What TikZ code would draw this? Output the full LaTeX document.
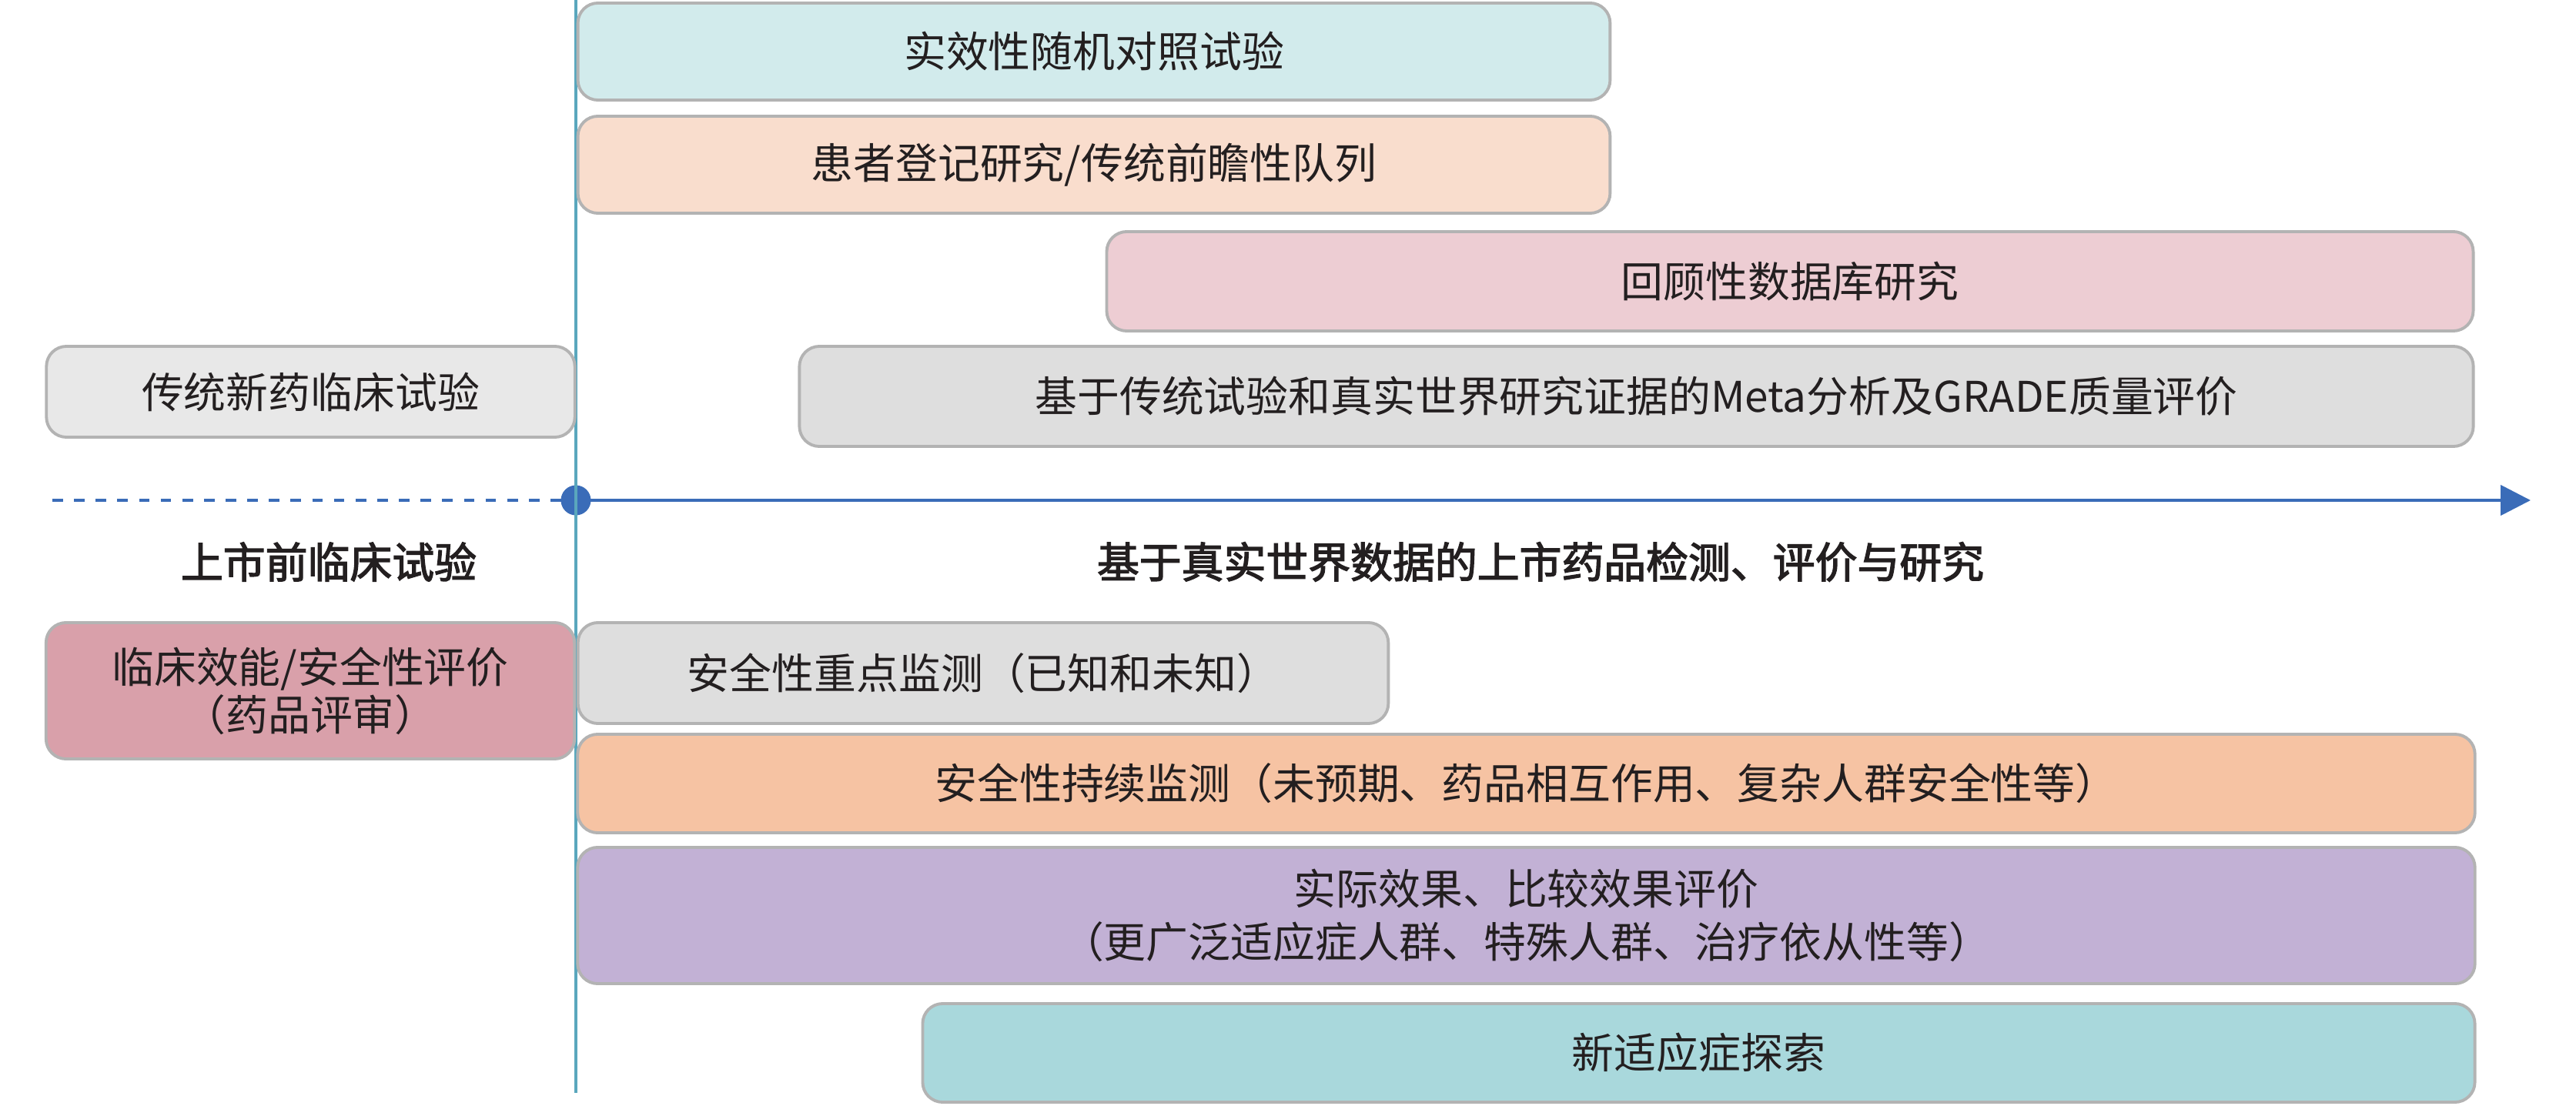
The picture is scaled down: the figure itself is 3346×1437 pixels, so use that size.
\documentclass[tikz,border=0pt]{standalone}
\usepackage{fontspec}
\setmainfont{Noto Sans CJK SC}
\newfontfamily\cjkb[FakeBold=2.5]{Noto Sans CJK SC}
\usetikzlibrary{arrows.meta}
\definecolor{cRCT}{HTML}{D2EBEC}
\definecolor{cREG}{HTML}{F9DDCD}
\definecolor{cRET}{HTML}{EDCDD3}
\definecolor{cMETA}{HTML}{DEDEDE}
\definecolor{cTRAD}{HTML}{E8E8E8}
\definecolor{cCLIN}{HTML}{D9A0AA}
\definecolor{cFOC}{HTML}{DEDEDE}
\definecolor{cCONT}{HTML}{F6C3A3}
\definecolor{cEFF}{HTML}{C2B1D5}
\definecolor{cNEW}{HTML}{A9D8DC}
\definecolor{cBORD}{HTML}{B3B3B3}
\definecolor{cVLINE}{HTML}{5AA7BD}
\definecolor{cAXIS}{HTML}{3A6CB8}
\definecolor{cTXT}{HTML}{231F20}
\tikzset{
  bx/.style={draw=cBORD, line width=1.1pt, rounded corners=0.26cm, inner sep=0pt,
    text=cTXT, align=center, font=\fontsize{15.6pt}{17.6pt}\selectfont},
  lbl/.style={text=cTXT, inner sep=0pt, font=\fontsize{15.6pt}{18pt}\selectfont\cjkb},
  dotnode/.style={circle, fill=cAXIS, minimum size=0.39cm, inner sep=0pt},
}
\begin{document}
\begin{tikzpicture}[x=0.01cm, y=-0.01cm]
\useasboundingbox (0,0) rectangle (3346,1437);
% axis
\coordinate (axL) at (68,650);
\coordinate (axR) at (3287,650);
\node[dotnode] (o) at (748,650) {};
\draw[cAXIS, line width=1.3pt, dash pattern=on 3.9pt off 4.1pt] (axL) -- (o.center);
\draw[cAXIS, line width=1.3pt, -{Triangle[length=0.39cm, width=0.39cm]}] (o.center) -- (axR);
% vertical line
\coordinate (vT) at (748,0);
\coordinate (vB) at (748,1420);
\draw[cVLINE, line width=1.3pt] (vT) -- (vB);
% upper boxes
\node[bx, fill=cRCT, minimum width=13.40cm, minimum height=1.26cm] (rct) at (1421,67) {实效性随机对照试验};
\node[bx, fill=cREG, minimum width=13.40cm, minimum height=1.26cm] (reg) at (1421,214) {患者登记研究/传统前瞻性队列};
\node[bx, fill=cRET, minimum width=17.74cm, minimum height=1.29cm] (ret) at (2325,365.5) {回顾性数据库研究};
\node[bx, fill=cMETA, minimum width=21.73cm, minimum height=1.30cm] (meta) at (2125.5,515) {基于传统试验和真实世界研究证据的Meta分析及GRADE质量评价};
\node[bx, fill=cTRAD, minimum width=6.86cm, minimum height=1.18cm] (trad) at (403.5,509) {传统新药临床试验};
% labels
\node[lbl] (pre) at (427,730) {上市前临床试验};
\node[lbl] (post) at (2001,730) {基于真实世界数据的上市药品检测、评价与研究};
% lower boxes
\node[bx, fill=cCLIN, minimum width=6.86cm, minimum height=1.77cm] (clin) at (403,897.5) {临床效能/安全性评价\\（药品评审）};
\node[bx, fill=cFOC, minimum width=10.52cm, minimum height=1.31cm] (foc) at (1277,874.5) {安全性重点监测（已知和未知）};
\node[bx, fill=cCONT, minimum width=24.63cm, minimum height=1.28cm] (cont) at (1982.5,1018) {安全性持续监测（未预期、药品相互作用、复杂人群安全性等）};
\node[bx, fill=cEFF, minimum width=24.63cm, minimum height=1.77cm, font=\fontsize{15.6pt}{19.4pt}\selectfont] (eff) at (1982.5,1189.5) {实际效果、比较效果评价\\（更广泛适应症人群、特殊人群、治疗依从性等）};
\node[bx, fill=cNEW, minimum width=20.15cm, minimum height=1.28cm] (new) at (2206.5,1368) {新适应症探索};
\end{tikzpicture}
\end{document}
